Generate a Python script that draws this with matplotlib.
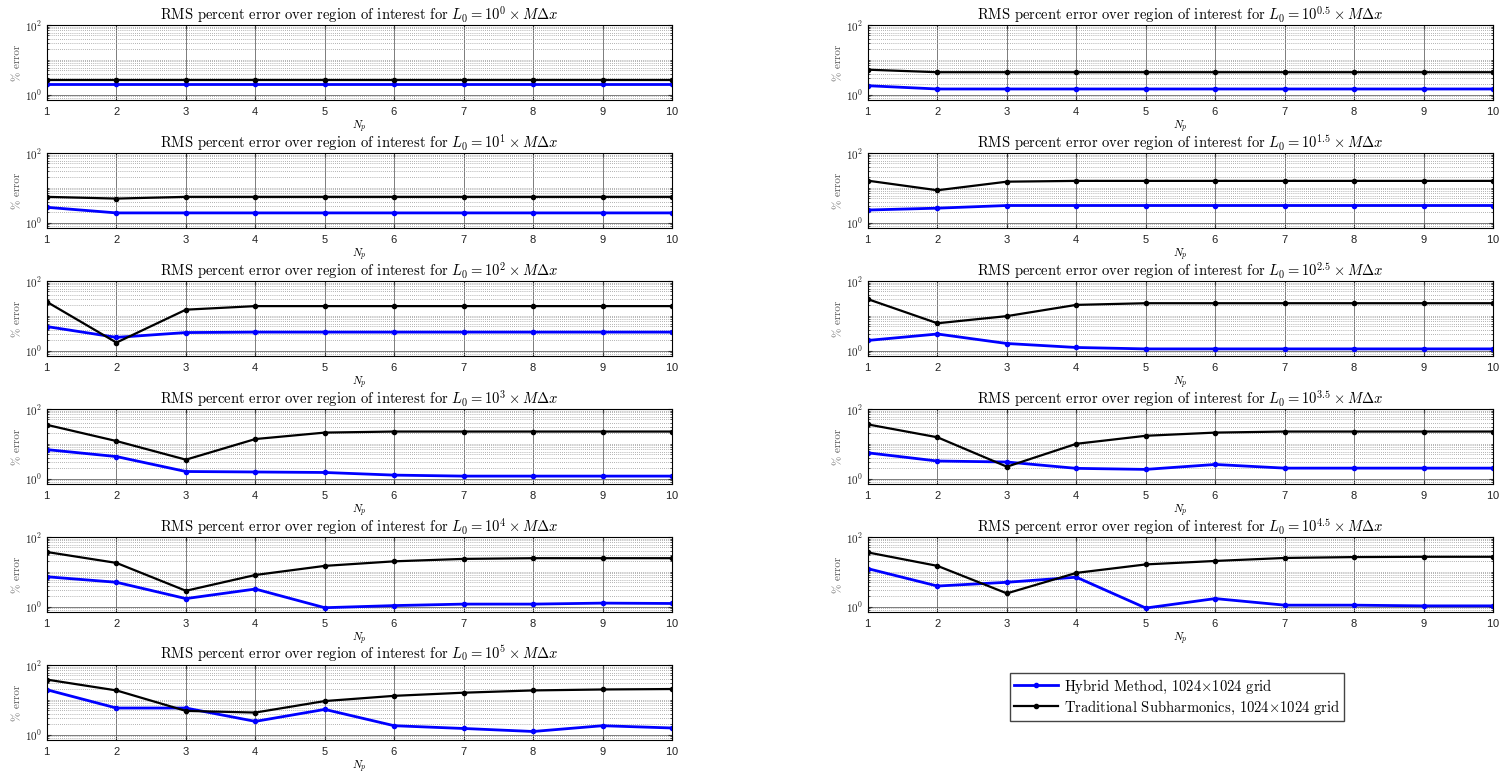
import matplotlib
matplotlib.use("Agg")
import matplotlib.pyplot as plt
from matplotlib.ticker import FixedLocator, NullFormatter

plt.rcParams['mathtext.fontset'] = 'cm'
plt.rcParams['axes.formatter.use_mathtext'] = True

Np = [1, 2, 3, 4, 5, 6, 7, 8, 9, 10]

# exponent of L0 for each panel (left column / right column)
exps_left = ["0", "1", "2", "3", "4", "5"]
exps_right = ["0.5", "1.5", "2.5", "3.5", "4.5"]

hybrid = {
    "0":   [2.0, 2.0, 2.0, 2.0, 2.0, 2.0, 2.0, 2.0, 2.0, 2.0],
    "0.5": [1.8, 1.45, 1.45, 1.45, 1.45, 1.45, 1.45, 1.45, 1.45, 1.45],
    "1":   [2.75, 1.9, 1.9, 1.9, 1.9, 1.9, 1.9, 1.9, 1.9, 1.9],
    "1.5": [2.3, 2.6, 3.1, 3.1, 3.1, 3.1, 3.1, 3.1, 3.1, 3.1],
    "2":   [4.9, 2.4, 3.3, 3.4, 3.4, 3.4, 3.4, 3.4, 3.4, 3.4],
    "2.5": [1.96, 3.0, 1.6, 1.23, 1.12, 1.12, 1.12, 1.12, 1.12, 1.12],
    "3":   [6.8, 4.3, 1.6, 1.55, 1.5, 1.26, 1.18, 1.18, 1.18, 1.18],
    "3.5": [5.5, 3.2, 3.0, 1.97, 1.84, 2.55, 2.0, 2.0, 2.0, 2.0],
    "4":   [7.2, 5.0, 1.7, 3.2, 0.93, 1.07, 1.18, 1.18, 1.26, 1.23],
    "4.5": [12.3, 3.9, 5.0, 7.0, 0.91, 1.7, 1.1, 1.1, 1.05, 1.05],
    "5":   [19.4, 5.8, 5.8, 2.4, 5.3, 1.8, 1.5, 1.23, 1.8, 1.55],
}

traditional = {
    "0":   [2.7, 2.7, 2.7, 2.7, 2.7, 2.7, 2.7, 2.7, 2.7, 2.7],
    "0.5": [5.2, 4.4, 4.4, 4.4, 4.4, 4.4, 4.4, 4.4, 4.4, 4.4],
    "1":   [5.5, 4.9, 5.5, 5.5, 5.5, 5.5, 5.5, 5.5, 5.5, 5.5],
    "1.5": [16, 8.5, 15, 15.8, 15.8, 15.8, 15.8, 15.8, 15.8, 15.8],
    "2":   [25, 1.7, 15, 19, 19, 19, 19, 19, 19, 19],
    "2.5": [30, 6.1, 9.8, 20.6, 23, 23, 23, 23, 23, 23],
    "3":   [35, 12, 3.5, 13.7, 21, 22.5, 22.5, 22.5, 22.5, 22.5],
    "3.5": [36, 15.4, 2.2, 10, 17, 21, 22.5, 22.5, 22.5, 22.5],
    "4":   [37, 18, 2.85, 8.1, 14.8, 20, 23.5, 24.6, 24.6, 24.6],
    "4.5": [36, 14.8, 2.4, 9.3, 16.3, 20.5, 25, 26.5, 27, 27],
    "5":   [38, 18.6, 4.8, 4.3, 9.2, 13, 16, 18.6, 19.8, 20.4],
}

fig = plt.figure(figsize=(15.03, 7.74), dpi=100)

W, H = 1503.0, 774.0
col_left = [47, 868]
ax_w = 625
ax_h = 75
row_top = [25, 153, 281, 409, 537, 665]

minor = [0.7, 0.8, 0.9] + list(range(2, 10)) + list(range(10, 100, 10))


def draw(ax, e):
    lh, = ax.plot(Np, hybrid[e], '.-', color='#0000ff', lw=2.0, ms=6)
    lt, = ax.plot(Np, traditional[e], 'k.-', lw=1.6, ms=6)
    ax.set_yscale('log')
    ax.set_ylim(0.7, 100)
    ax.set_xlim(1, 10)
    ax.set_xticks(Np)
    ax.yaxis.set_major_locator(FixedLocator([1, 100]))
    ax.yaxis.set_minor_locator(FixedLocator(minor))
    ax.yaxis.set_minor_formatter(NullFormatter())
    ax.set_yticklabels([r'$\mathsf{10}^{\mathsf{0}}$', r'$\mathsf{10}^{\mathsf{2}}$'])
    for t in ax.get_xticklabels():
        t.set_family('Liberation Sans')
    ax.grid(True, which='major', color='#666666', lw=0.6)
    ax.grid(True, which='minor', axis='y', color='#999999', lw=0.6, ls=(0, (1, 1.5)))
    ax.tick_params(which='both', direction='in', top=True, right=True,
                   labelsize=8, length=3, color='#333333', labelcolor='#222222')
    ax.tick_params(which='minor', length=1.5)
    for s in ax.spines.values():
        s.set_linewidth(0.8)
    ax.set_title(r'RMS percent error over region of interest for $L_0 = 10^{%s} \times M\Delta x$' % e,
                 fontsize=10.5, family='cmr10', pad=4)
    ax.set_xlabel(r'$N_p$', fontsize=8, labelpad=1)
    ax.set_ylabel('% error', fontsize=8, family='cmr10', color='#555555', labelpad=2)
    return lh, lt


for i, e in enumerate(exps_left):
    ax = fig.add_axes([col_left[0] / W, 1 - (row_top[i] + ax_h) / H, ax_w / W, ax_h / H])
    lh, lt = draw(ax, e)

for i, e in enumerate(exps_right):
    ax = fig.add_axes([col_left[1] / W, 1 - (row_top[i] + ax_h) / H, ax_w / W, ax_h / H])
    draw(ax, e)

fig.legend([lh, lt],
           [r'Hybrid Method, 1024$\times$1024 grid',
            r'Traditional Subharmonics, 1024$\times$1024 grid'],
           loc='center', bbox_to_anchor=(1177 / W, 1 - 697 / H),
           prop={'family': 'cmr10', 'size': 10.5}, fancybox=False,
           edgecolor='#444444', framealpha=1, borderpad=0.3,
           handlelength=3, labelspacing=0.2, handletextpad=0.4)

fig.savefig('out.png', dpi=100)
